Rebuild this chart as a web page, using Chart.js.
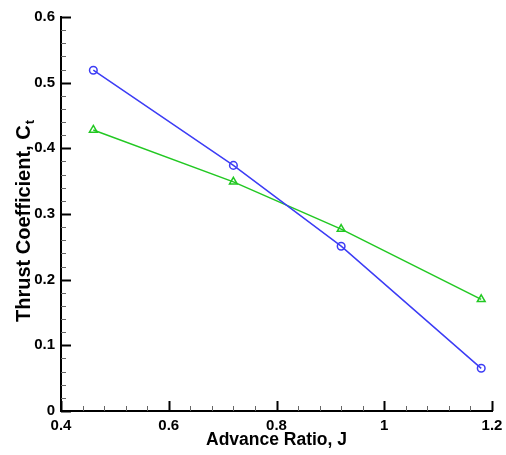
<!DOCTYPE html>
<html>
<head>
<meta charset="utf-8">
<script src="https://cdn.jsdelivr.net/npm/chart.js@4"></script>
<style>
  html, body { margin: 0; padding: 0; background: #fff; }
  #wrap { width: 506px; height: 455px; }
</style>
</head>
<body>
<div id="wrap"><canvas id="thrustChart"></canvas></div>
<script>
// advance ratio J and thrust coefficient
let advanceRatio = [0.46, 0.72, 0.92, 1.18];
let ctCircles = [0.519, 0.374, 0.251, 0.065];
let ctTriangles = [0.428, 0.349, 0.277, 0.170];

let xTitle = 'Advance Ratio, J';
let yTitle = 'Thrust Coefficient, C';
let ySub = 't';

const FONT = '"Liberation Sans", Arial, sans-serif';

function toPoints(xs, ys) {
    return xs.map((x, i) => ({ x: x, y: ys[i] }));
}

// Tecplot style ticks: drawn inward, 4 minor ticks between majors
const innerTicks = {
    id: 'innerTicks',
    afterDraw(chart) {
        const ctx = chart.ctx;
        const a = chart.chartArea;
        const xs = chart.scales.x, ys = chart.scales.y;
        ctx.save();
        for (let i = 0; i <= 30; i++) {
            const major = i % 5 === 0;
            const py = Math.round(ys.getPixelForValue(i * 0.02)) + 0.5;
            ctx.strokeStyle = major ? '#000' : '#666';
            ctx.lineWidth = major ? 2 : 1;
            ctx.beginPath();
            ctx.moveTo(a.left, py);
            ctx.lineTo(a.left + (major ? 10 : 5), py);
            ctx.stroke();
        }
        for (let i = 0; i <= 20; i++) {
            const major = i % 5 === 0;
            const px = Math.round(xs.getPixelForValue(0.4 + i * 0.04)) + 0.5;
            ctx.strokeStyle = major ? '#000' : '#666';
            ctx.lineWidth = major ? 2 : 1;
            ctx.beginPath();
            ctx.moveTo(px, a.bottom);
            ctx.lineTo(px, a.bottom - (major ? 10 : 5));
            ctx.stroke();
        }
        ctx.restore();
    }
};

// axis titles (the y title needs a subscript)
const axisTitles = {
    id: 'axisTitles',
    afterDraw(chart) {
        const ctx = chart.ctx;
        const a = chart.chartArea;
        ctx.save();
        ctx.fillStyle = '#000';
        ctx.font = 'bold 17.5px ' + FONT;
        ctx.textAlign = 'center';
        ctx.textBaseline = 'alphabetic';
        ctx.fillText(xTitle, (a.left + a.right) / 2, 445);

        ctx.translate(30, 322);
        ctx.rotate(-Math.PI / 2);
        ctx.textAlign = 'left';
        ctx.font = 'bold 20px ' + FONT;
        ctx.fillText(yTitle, 0, 0);
        const w = ctx.measureText(yTitle).width;
        ctx.font = 'bold 13px ' + FONT;
        ctx.fillText(ySub, w + 1, 4);
        ctx.restore();
    }
};

document.addEventListener("DOMContentLoaded", function() {
    let ctx = document.getElementById("thrustChart").getContext('2d');
    let thrustChart = new Chart(ctx, {
        type: 'line',
        data: {
            datasets: [{
                label: 'Ct circles',
                data: toPoints(advanceRatio, ctCircles),
                borderColor: '#3c3cf5',
                backgroundColor: 'rgba(0,0,0,0)',
                borderWidth: 1.5,
                pointStyle: 'circle',
                pointRadius: 3.8,
                pointBorderWidth: 1.5,
                pointBorderColor: '#3c3cf5',
                pointBackgroundColor: 'rgba(0,0,0,0)',
                tension: 0
            }, {
                label: 'Ct triangles',
                data: toPoints(advanceRatio, ctTriangles),
                borderColor: '#22c822',
                backgroundColor: 'rgba(0,0,0,0)',
                borderWidth: 1.5,
                pointStyle: 'triangle',
                pointRadius: 4.5,
                pointBorderWidth: 1.5,
                pointBorderColor: '#22c822',
                pointBackgroundColor: 'rgba(0,0,0,0)',
                tension: 0
            }]
        },
        options: {
            responsive: true,
            maintainAspectRatio: false,
            animation: false,
            layout: { padding: { left: 0, right: 14, top: 17, bottom: 0 } },
            plugins: {
                legend: { display: false },
                tooltip: { enabled: false }
            },
            scales: {
                x: {
                    type: 'linear',
                    min: 0.4,
                    max: 1.2,
                    grid: { display: false, drawTicks: false },
                    border: { display: true, color: '#000', width: 2 },
                    ticks: {
                        stepSize: 0.2,
                        padding: 6,
                        color: '#000',
                        maxRotation: 0,
                        font: { family: FONT, size: 15, weight: 'bold' },
                        callback: v => String(+v.toFixed(2))
                    },
                    afterFit(scale) {
                        scale.height = 44;
                        scale.paddingLeft = 0;
                        scale.paddingRight = 0;
                    }
                },
                y: {
                    type: 'linear',
                    min: 0,
                    max: 0.6,
                    grid: { display: false, drawTicks: false },
                    border: { display: true, color: '#000', width: 2 },
                    ticks: {
                        stepSize: 0.1,
                        padding: 6,
                        color: '#000',
                        font: { family: FONT, size: 15, weight: 'bold' },
                        callback: v => String(+v.toFixed(2))
                    },
                    afterFit(scale) {
                        scale.width = 61;
                        scale.paddingTop = 0;
                        scale.paddingBottom = 0;
                    }
                }
            }
        },
        plugins: [innerTicks, axisTitles]
    });
});
</script>
</body>
</html>
